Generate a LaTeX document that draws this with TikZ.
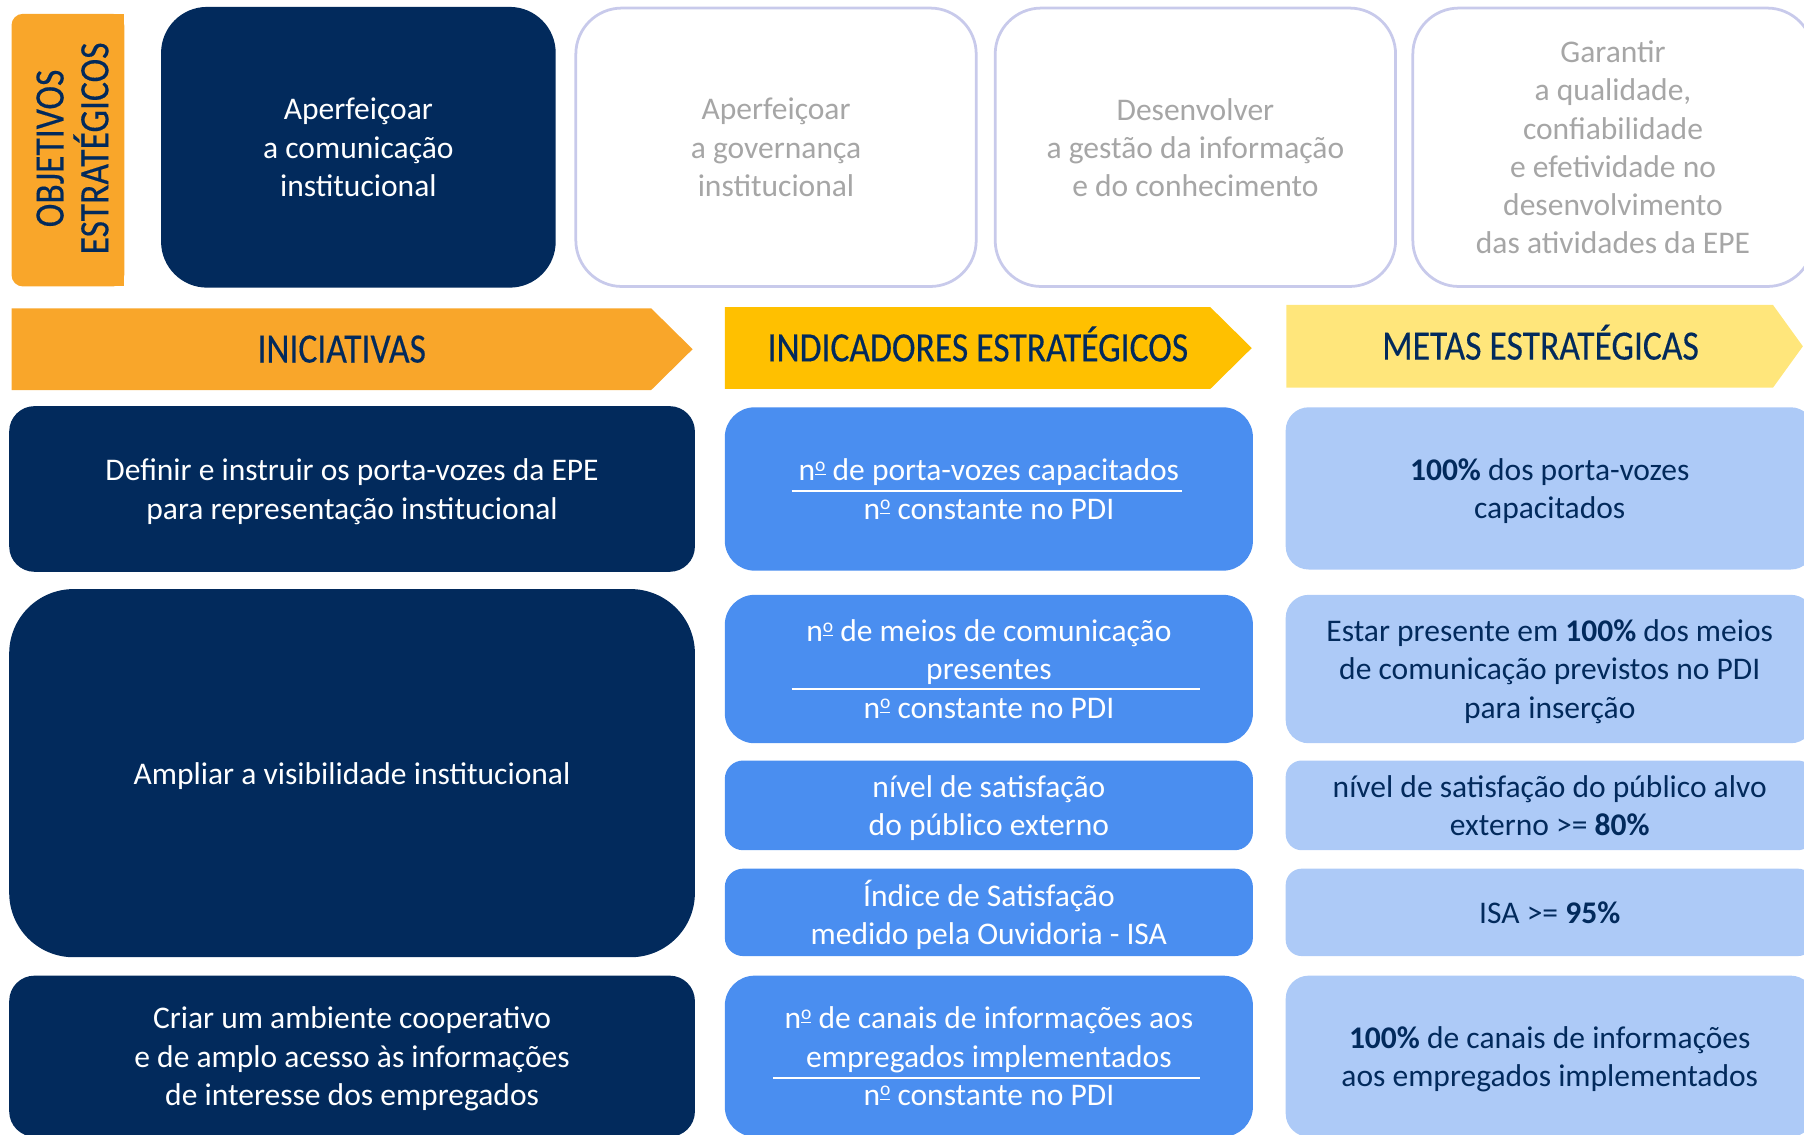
\documentclass[tikz,border=0pt]{standalone}
\usepackage{fontspec}
\setmainfont{Carlito}
\newfontfamily\headfont[FakeStretch=0.85,FakeBold=0.3]{Carlito}

\definecolor{navy}{RGB}{2,42,92}
\definecolor{orangeA}{RGB}{249,166,42}
\definecolor{goldA}{RGB}{255,192,0}
\definecolor{yellowA}{RGB}{255,230,123}
\definecolor{blueA}{RGB}{74,142,240}
\definecolor{lightblue}{RGB}{173,202,247}
\definecolor{lavender}{RGB}{200,202,235}
\definecolor{grayA}{RGB}{166,166,166}

% nº com o sublinhado
\newcommand\nro{n\raisebox{0.62ex}{\fontsize{8.5}{8.5}\selectfont\underline{o}}}

\tikzset{
    txt/.style={font=\fontsize{13.7}{16.6}\selectfont, align=center, inner sep=0pt, text depth=0pt},
    objbox/.style={txt, minimum width=174pt, minimum height=121pt, rounded corners=20pt},
    objgray/.style={objbox, draw=lavender, line width=1.2pt, fill=white, text=grayA},
    head/.style={font=\headfont\fontsize{18.2}{19.5}\selectfont, text=navy, align=center,
        text height=11.6pt, text depth=0pt, inner sep=0pt},
    inibox/.style={txt, fill=navy, text=white, minimum width=298pt},
    indbox/.style={txt, fill=blueA, text=white, minimum width=229.5pt},
    metbox/.style={txt, fill=lightblue, text=navy, minimum width=229.5pt},
    fracrule/.style={white, line width=0.8pt}
}

\begin{document}
\begin{tikzpicture}[x=0.5pt,y=-0.5pt]
    \useasboundingbox (0,0) rectangle (1568,986);
    \clip (0,0) rectangle (1568,986);

    % objetivos
    \fill[orangeA, rounded corners=5pt] (10,12) rectangle (108,249);
    \fill[orangeA] (60,12) rectangle (108,249);
    \node[head, rotate=90, text height=, text depth=] (objlabel) at (63,129) {OBJETIVOS\\ESTRATÉGICOS};

    \node[objbox, fill=navy, text=white, minimum width=171.5pt, minimum height=122pt] (obj1) at (311.5,128)
        {Aperfeiçoar\\a comunicação\\institucional};
    \node[objgray] (obj2) at (674.5,128) {Aperfeiçoar\\a governança\\institucional};
    \node[objgray] (obj3) at (1039,128) {Desenvolver\\a gestão da informação\\e do conhecimento};
    \node[objgray] (obj4) at (1402,128)
        {Garantir\\a qualidade,\\confiabilidade\\e efetividade no\\desenvolvimento\\das atividades da EPE};

    % cabecalhos
    \fill[orangeA] (10,268) -- (566,268) -- (602,303.5) -- (566,339) -- (10,339) -- cycle;
    \fill[goldA] (630,267) -- (1052,267) -- (1088,302.5) -- (1052,338) -- (630,338) -- cycle;
    \fill[yellowA] (1118,265) -- (1541,265) -- (1567,301) -- (1541,337) -- (1118,337) -- cycle;
    \node[head] (hIni) at (297,303.5) {INICIATIVAS};
    \node[head] (hInd) at (850,302.5) {INDICADORES ESTRATÉGICOS};
    \node[head] (hMet) at (1339,301) {METAS ESTRATÉGICAS};

    % iniciativas
    \node[inibox, minimum height=72pt, rounded corners=11pt] (ini1) at (306,425)
        {Definir e instruir os porta-vozes da EPE\\para representação institucional};
    \node[inibox, minimum height=160pt, rounded corners=28pt] (ini2) at (306,672)
        {Ampliar a visibilidade institucional};
    \node[inibox, minimum height=70pt, rounded corners=11pt] (ini3) at (306,918)
        {Criar um ambiente cooperativo\\e de amplo acesso às informações\\de interesse dos empregados};

    % indicadores
    \node[indbox, minimum height=71pt, rounded corners=13pt] (ind1) at (859.5,425)
        {\nro{} de porta-vozes capacitados\\\nro{} constante no PDI};
    \node[indbox, minimum height=64.5pt, rounded corners=13pt] (ind2) at (859.5,581.5)
        {\nro{} de meios de comunicação\\presentes\\\nro{} constante no PDI};
    \node[indbox, minimum height=39pt, rounded corners=8pt] (ind3) at (859.5,700)
        {nível de satisfação\\do público externo};
    \node[indbox, minimum height=38pt, rounded corners=8pt] (ind4) at (859.5,793)
        {Índice de Satisfação\\medido pela Ouvidoria - ISA};
    \node[indbox, minimum height=70pt, rounded corners=13pt] (ind5) at (859.5,918)
        {\nro{} de canais de informações aos\\empregados implementados\\\nro{} constante no PDI};

    \draw[fracrule] (688,427) -- (1027,427);
    \draw[fracrule] (688,599) -- (1043,599);
    \draw[fracrule] (672,937) -- (1043,937);

    % metas
    \node[metbox, minimum height=70.5pt, rounded corners=10pt] (met1) at (1347,424.5)
        {\textbf{100\%} dos porta-vozes\\capacitados};
    \node[metbox, minimum height=64.5pt, rounded corners=10pt] (met2) at (1347,581.5)
        {Estar presente em \textbf{100\%} dos meios\\de comunicação previstos no PDI\\para inserção};
    \node[metbox, minimum height=39pt, rounded corners=7pt] (met3) at (1347,700)
        {nível de satisfação do público alvo\\externo >= \textbf{80\%}};
    \node[metbox, minimum height=38pt, rounded corners=7pt] (met4) at (1347,793)
        {ISA >= \textbf{95\%}};
    \node[metbox, minimum height=70pt, rounded corners=10pt] (met5) at (1347,918)
        {\textbf{100\%} de canais de informações\\aos empregados implementados};
\end{tikzpicture}
\end{document}
